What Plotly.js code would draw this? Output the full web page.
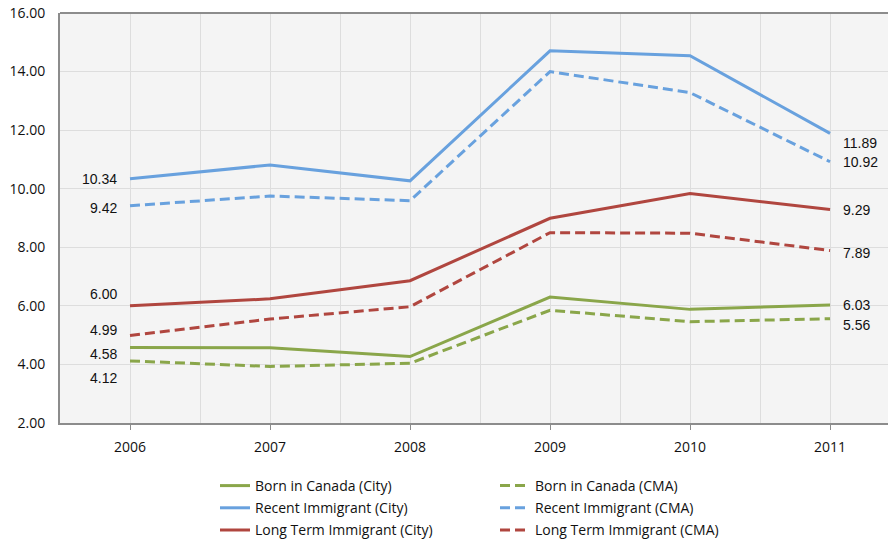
<!DOCTYPE html>
<html>
<head>
<meta charset="utf-8">
<script src="https://cdn.plot.ly/plotly-3.0.1.min.js"></script>
<style>html,body{margin:0;padding:0;background:#fff;}#chart{width:888px;height:542px;}</style>
</head>
<body>
<div id="chart"></div>
<script>
const years = [2006, 2007, 2008, 2009, 2010, 2011];
const bornCity = [4.58, 4.57, 4.27, 6.30, 5.88, 6.03];
const bornCMA = [4.12, 3.93, 4.04, 5.85, 5.46, 5.56];
const recentCity = [10.34, 10.81, 10.27, 14.71, 14.54, 11.89];
const recentCMA = [9.42, 9.75, 9.59, 14.00, 13.28, 10.92];
const longCity = [6.00, 6.24, 6.86, 8.99, 9.84, 9.29];
const longCMA = [4.99, 5.55, 5.97, 8.50, 8.48, 7.89];
const seriesNames = ["Born in Canada (City)", "Born in Canada (CMA)", "Recent Immigrant (City)", "Recent Immigrant (CMA)", "Long Term Immigrant (City)", "Long Term Immigrant (CMA)"];

const green = "#8AA64A", blue = "#68A1DE", red = "#B0463F";
const dashPat = "10px,5px";
function tr(name, y, color, dashed, grp) {
  return {x: years, y: y, name: name, type: "scatter", mode: "lines",
    legend: dashed ? "legend2" : "legend", legendgroup: grp,
    line: {color: color, width: 3, dash: dashed ? dashPat : "solid"}, hoverinfo: "skip"};
}
const data = [
  tr(seriesNames[0], bornCity, green, false, "a"),
  tr(seriesNames[1], bornCMA, green, true, "b"),
  tr(seriesNames[2], recentCity, blue, false, "c"),
  tr(seriesNames[3], recentCMA, blue, true, "d"),
  tr(seriesNames[4], longCity, red, false, "e"),
  tr(seriesNames[5], longCMA, red, true, "f")
];

const lblFont = {family: "Liberation Sans, Arial, sans-serif", size: 14, color: "#111"};
function leftLbl(y, shift) {
  return {x: years[0], y: y, text: y.toFixed(2), showarrow: false, xanchor: "right", xshift: -11, yshift: shift, font: lblFont};
}
function rightLbl(arr, shift) {
  const y = arr[arr.length - 1];
  return {x: years[years.length - 1], y: y, text: y.toFixed(2), showarrow: false, xanchor: "left", xshift: 11, yshift: shift, font: lblFont};
}
const annotations = [
  leftLbl(recentCity[0], 0),
  leftLbl(recentCMA[0], -2),
  leftLbl(longCity[0], 12),
  leftLbl(longCMA[0], 5),
  leftLbl(bornCity[0], -7),
  leftLbl(bornCMA[0], -17),
  rightLbl(recentCity, -10),
  rightLbl(recentCMA, 0),
  rightLbl(longCity, 0),
  rightLbl(longCMA, -2),
  rightLbl(bornCity, 0),
  rightLbl(bornCMA, -6)
];

const legFont = {family: "Open Sans, Lato, sans-serif", size: 14, color: "#111"};
const layout = {
  width: 888, height: 542,
  margin: {l: 60, r: 0, t: 13, b: 119, autoexpand: false},
  paper_bgcolor: "#ffffff",
  plot_bgcolor: "#F4F4F4",
  font: {family: "Open Sans, Lato, sans-serif", size: 14, color: "#111"},
  showlegend: true,
  legend: {orientation: "v", xref: "container", yref: "container", x: 215 / 888, xanchor: "left", y: 1 - 470 / 542, yanchor: "top",
    font: legFont, bgcolor: "rgba(0,0,0,0)", tracegroupgap: 1, itemwidth: 30},
  legend2: {orientation: "v", xref: "container", yref: "container", x: 495 / 888, xanchor: "left", y: 1 - 470 / 542, yanchor: "top",
    font: legFont, bgcolor: "rgba(0,0,0,0)", tracegroupgap: 1, itemwidth: 30},
  xaxis: {
    range: [2005.5, 2011.414], tickmode: "array", tickvals: years, ticktext: years.map(String),
    showgrid: true, gridcolor: "#DDDDDD", gridwidth: 1,
    minor: {dtick: 0.5, tick0: 2005.5, showgrid: true, gridcolor: "#DDDDDD", gridwidth: 1},
    showline: true, linecolor: "#8C8C8C", linewidth: 2,
    ticks: "outside", ticklen: 5, tickcolor: "#8C8C8C", tickwidth: 1,
    ticklabelstandoff: 5, zeroline: false, fixedrange: true, tickangle: 0
  },
  yaxis: {
    range: [2, 16], dtick: 2, tick0: 0, tickformat: ".2f",
    showgrid: true, gridcolor: "#DDDDDD", gridwidth: 1,
    showline: true, linecolor: "#8C8C8C", linewidth: 2, mirror: false,
    ticks: "", ticklabelstandoff: 10, zeroline: false, fixedrange: true
  },
  shapes: [{type: "line", xref: "paper", yref: "paper", x0: 0, x1: 1, y0: 1, y1: 1, line: {color: "#8C8C8C", width: 2}}],
  annotations: annotations
};
Plotly.newPlot("chart", data, layout, {displayModeBar: false, staticPlot: true});
</script>
</body>
</html>
